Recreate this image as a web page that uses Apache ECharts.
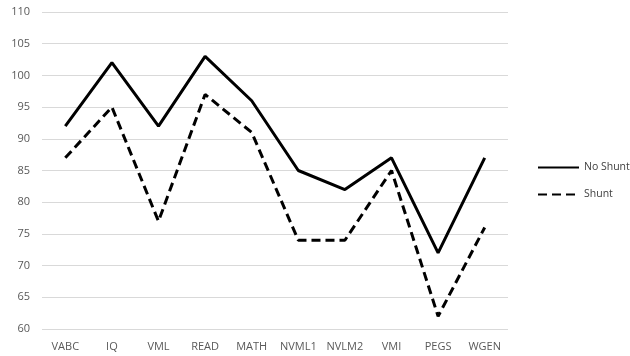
<!DOCTYPE html>
<html><head><meta charset="utf-8">
<script src="https://cdn.jsdelivr.net/npm/echarts@6/dist/echarts.min.js"></script>
<style>html,body{margin:0;padding:0;background:#fff}#c{width:630px;height:356px}</style>
</head><body><div id="c"></div>
<script>
const categories = ['VABC','IQ','VML','READ','MATH','NVML1','NVLM2','VMI','PEGS','WGEN'];
const noShunt = [92,102,92,103,96,85,82,87,72,87];
const shunt = [87,95,77,97,91,74,74,85,62,76];
const yTicks = {min:60, max:110, interval:5};

const chart = echarts.init(document.getElementById('c'), null, {renderer:'canvas'});
chart.setOption({
  animation:false,
  textStyle:{fontFamily:'Open Sans, Liberation Sans, sans-serif'},
  grid:{left:42, right:122, top:12, bottom:27},
  legend:{
    orient:'vertical', left:532, top:157, itemWidth:41, itemHeight:10, itemGap:16,
    itemStyle:{opacity:0},
    textStyle:{color:'#404040', fontSize:10.5},
    data:['No Shunt','Shunt']
  },
  xAxis:{
    type:'category', data:categories, boundaryGap:true,
    axisLine:{show:false}, axisTick:{show:false},
    axisLabel:{color:'#595959', fontSize:11, margin:12, interval:0}
  },
  yAxis:{
    type:'value', min:yTicks.min, max:yTicks.max, interval:yTicks.interval,
    axisLine:{show:false}, axisTick:{show:false},
    axisLabel:{color:'#595959', fontSize:11, margin:12},
    splitLine:{lineStyle:{color:'#d9d9d9', width:1}}
  },
  series:[
    {name:'No Shunt', type:'line', data:noShunt, symbol:'none',
     lineStyle:{color:'#000', width:3, type:'solid'}, itemStyle:{color:'#000'}},
    {name:'Shunt', type:'line', data:shunt, symbol:'none',
     lineStyle:{color:'#000', width:3, type:[9,5]}, itemStyle:{color:'#000'}}
  ]
});
</script></body></html>
